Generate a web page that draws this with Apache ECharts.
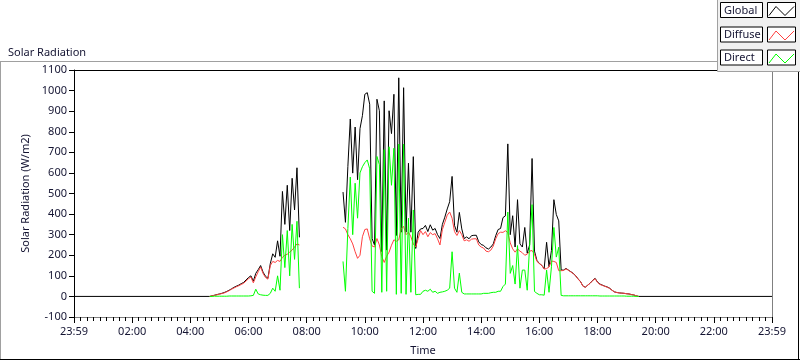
<!DOCTYPE html>
<html><head><meta charset="utf-8">
<script src="https://cdn.jsdelivr.net/npm/echarts/dist/echarts.min.js"></script>
<style>html,body{margin:0;padding:0;background:#fff}#c{width:800px;height:361px}</style>
</head><body><div id="c"></div>
<script>
// ---- data ----
const seriesNames = ['Global', 'Diffuse', 'Direct'];
const xTickLabels = ['23:59','02:00','04:00','06:00','08:00','10:00','12:00','14:00','16:00','18:00','20:00','22:00','23:59'];
const stepMinutes = 5;
const morningStart = '04:40';   // first sample of morning block
const middayStart = '09:15';    // first sample after the logging gap
const dayBounds = ['00:00', '24:00'];

const globalMorning = [0,3,6,9,12,15,19,24,30,37,44,50,55,62,68,80,92,100,74,112,130,150,118,98,88,160,207,190,270,195,510,350,540,320,574,420,625,287];
const diffuseMorning = [0,3,5,8,11,14,17,22,28,35,41,47,52,58,64,75,86,94,66,95,120,143,112,92,84,150,170,165,175,170,190,200,205,215,225,240,255,250];
const directMorning = [0,0,1,1,1,1,1,1,2,2,2,2,2,2,2,2,2,3,5,35,12,8,6,5,5,15,40,25,100,30,300,140,320,100,350,180,365,40];

const globalDay = [
507,360,631,862,599,823,567,815,878,982,
990,934,281,249,958,902,217,950,225,902,
791,982,296,1062,312,1014,312,647,312,679,
233,312,328,
330,345,315,348,322,330,300,281,350,385,
425,460,583,345,312,408,328,281,289,280,
295,297,297,265,252,248,236,230,240,255,
295,325,330,383,391,741,300,392,240,470,
255,240,335,210,250,670,220,175,160,151,
135,263,145,223,470,398,367,128,128,136,
128,120,112,100,85,72,50,45,55,65,
78,88,70,60,55,50,46,40,30,22,
19,17,16,15,13,12,9,7,3,0];
const diffuseDay = [
336,328,300,280,255,217,185,200,290,325,
328,280,245,240,281,250,193,165,195,215,
249,275,268,275,330,340,300,312,290,255,
240,281,320,
300,315,290,310,300,305,280,250,325,360,
395,410,380,315,296,320,300,270,275,268,
278,280,280,250,240,235,220,217,225,245,
280,305,312,311,319,311,260,231,215,231,
220,212,200,205,220,223,205,170,160,151,
133,135,143,172,170,165,125,125,126,134,
127,119,111,99,84,71,50,44,55,64,
77,86,68,58,54,49,45,39,30,22,
19,17,16,15,13,12,9,7,3,0];
const directDay = [
170,25,330,580,300,550,380,600,630,650,
663,620,25,15,680,640,20,713,25,727,
540,720,10,740,15,740,10,380,20,420,
8,10,10,
25,30,25,35,20,25,15,20,22,25,
30,40,217,40,20,113,20,12,12,12,
12,12,12,12,12,15,15,15,18,20,
20,25,25,48,60,410,112,150,60,247,
40,128,128,30,247,446,24,15,8,8,
6,128,20,144,335,191,239,5,3,3,
3,3,3,3,3,3,3,3,3,3,
3,3,3,2,2,2,2,2,2,2,
2,2,2,2,1,1,1,1,0,0];

// ---- helpers ----
function toHours(s){ const p = s.split(':'); return +p[0] + (+p[1])/60; }
function block(start, vals){ const t0 = toHours(start); return vals.map((v,i)=>[t0 + i*stepMinutes/60, v]); }
function build(morning, day, withBounds){
  const a = block(morningStart, morning), b = block(middayStart, day);
  const gapX = (a[a.length-1][0] + b[0][0]) / 2;
  let out = [...a, [gapX, '-'], ...b];
  if (withBounds) out = [[toHours(dayBounds[0]), 0], ...out, [toHours(dayBounds[1]), 0]];
  return out;
}

const txt = '#141432';
const font = 'Noto Sans';
const colors = ['#000000', '#ff4040', '#00ff00'];

const chart = echarts.init(document.getElementById('c'), null, {renderer:'canvas'});

const legendGraphics = [];
legendGraphics.push({type:'rect', z:100, shape:{x:717.5,y:-1,width:84,height:72.5}, style:{fill:'#f0f0f0', stroke:'#a0a0a0', lineWidth:1}});
const rowTops = [2, 26.5, 49.5];
seriesNames.forEach((n,i)=>{
  const y = rowTops[i];
  legendGraphics.push({type:'rect', z:101, shape:{x:720.5,y:y+0.5,width:42,height:15}, style:{fill:'#fff', stroke:'#000', lineWidth:1}});
  legendGraphics.push({type:'text', z:102, x:724, y:y+8.5, style:{text:n, fill:txt, font:'11px "Noto Sans"', textVerticalAlign:'middle', verticalAlign:'middle'}});
  legendGraphics.push({type:'rect', z:101, shape:{x:767.5,y:y+0.5,width:28,height:15}, style:{fill:'#fff', stroke:'#000', lineWidth:1}});
  legendGraphics.push({type:'polyline', z:102, shape:{points:[[769,y+13.5],[776,y+4.5],[785,y+13.5],[794,y+4.5]]}, style:{stroke:colors[i], lineWidth:1, fill:null}});
});
const frame = [
  {type:'line', z:90, shape:{x1:0,y1:61.5,x2:718,y2:61.5}, style:{stroke:'#a0a0a0', lineWidth:1}},
  {type:'line', z:90, shape:{x1:0.5,y1:61,x2:0.5,y2:360}, style:{stroke:'#a0a0a0', lineWidth:1}},
  {type:'line', z:90, shape:{x1:0,y1:359.5,x2:800,y2:359.5}, style:{stroke:'#000', lineWidth:1}},
  {type:'line', z:90, shape:{x1:798.5,y1:71,x2:798.5,y2:360}, style:{stroke:'#000', lineWidth:1}}
];

const option = {
  animation:false,
  backgroundColor:'#fff',
  title:{text:'Solar Radiation', left:3, top:42, textStyle:{fontSize:11, fontWeight:'normal', color:txt, fontFamily:font}},
  grid:{left:74, top:70, right:28, bottom:39, containLabel:false},
  xAxis:[{
    type:'value', min:0, max:24, interval:2, position:'bottom',
    axisLine:{show:true, onZero:false, lineStyle:{color:'#808080', width:1}},
    axisTick:{show:true, length:6, lineStyle:{color:'#000'}},
    minorTick:{show:true, splitNumber:9, length:4, lineStyle:{color:'#000'}},
    axisLabel:{margin:9, color:txt, fontSize:11, fontFamily:font, formatter:(v)=>xTickLabels[Math.round(v/2)]},
    splitLine:{show:false}, minorSplitLine:{show:false},
    name:'Time', nameLocation:'middle', nameGap:28, nameTextStyle:{color:txt, fontSize:11, fontFamily:font}
  },{
    type:'value', min:0, max:24, position:'top',
    axisLine:{show:true, onZero:false, lineStyle:{color:'#000', width:1}},
    axisTick:{show:false}, axisLabel:{show:false}, splitLine:{show:false}
  }],
  yAxis:[{
    type:'value', min:-100, max:1100, interval:100, position:'left',
    axisLine:{show:true, onZero:false, lineStyle:{color:'#000', width:1}},
    axisTick:{show:true, length:5, lineStyle:{color:'#000'}},
    axisLabel:{margin:7, color:txt, fontSize:11, fontFamily:font, formatter:(v)=>String(v)},
    splitLine:{show:false},
    name:'Solar Radiation (W/m2)', nameLocation:'middle', nameGap:25, nameRotate:90,
    nameTextStyle:{color:txt, fontSize:11, fontFamily:font}
  },{
    type:'value', min:-100, max:1100, position:'right',
    axisLine:{show:true, onZero:false, lineStyle:{color:'#808080', width:1}},
    axisTick:{show:false}, axisLabel:{show:false}, splitLine:{show:false}
  }],
  series:[
    {name:seriesNames[0], type:'line', data:build(globalMorning, globalDay, true), showSymbol:false, connectNulls:false, lineStyle:{color:colors[0], width:1}, itemStyle:{color:colors[0]}, z:2},
    {name:seriesNames[1], type:'line', data:build(diffuseMorning, diffuseDay, false), showSymbol:false, connectNulls:false, lineStyle:{color:colors[1], width:1}, itemStyle:{color:colors[1]}, z:3},
    {name:seriesNames[2], type:'line', data:build(directMorning, directDay, false), showSymbol:false, connectNulls:false, lineStyle:{color:colors[2], width:1}, itemStyle:{color:colors[2]}, z:4}
  ],
  graphic:[...frame, ...legendGraphics]
};
chart.setOption(option);
</script>
</body></html>
